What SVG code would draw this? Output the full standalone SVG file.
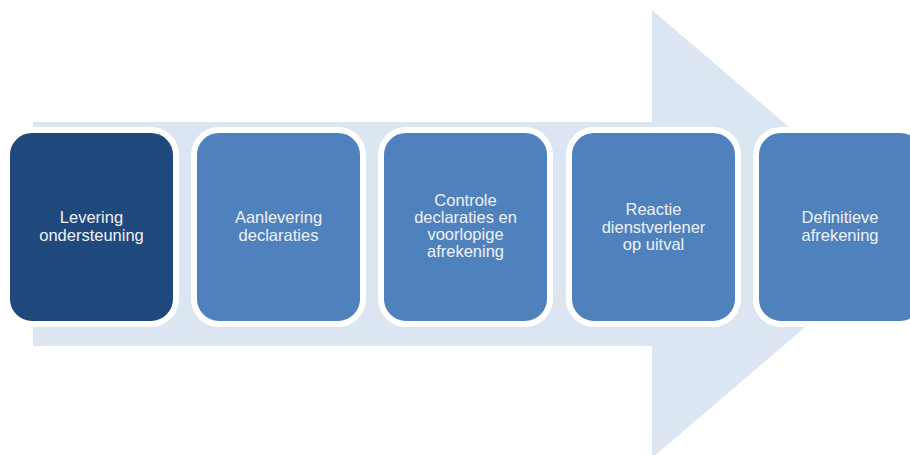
<svg xmlns="http://www.w3.org/2000/svg" width="910" height="455" viewBox="0 0 910 455">
  <style>
    .box { stroke: #FFFFFF; stroke-width: 6; }
    .dark { fill: #1F497D; }
    .mid { fill: #4F81BD; }
    .lbl { font-family: "Liberation Sans", Arial, sans-serif; font-size: 16.5px; fill: #F0F2F7; text-anchor: middle; }
  </style>
  <rect x="0" y="0" width="910" height="455" fill="#FFFFFF"/>
  <g id="connectors">
    <polygon points="33,122 652,122 652,10 914,234 652,458 652,346 33,346" fill="#DCE6F2"/>
  </g>
  <g id="node1">
    <rect class="box dark" x="7" y="130" width="169" height="194" rx="25" ry="25"/>
    <text class="lbl" x="91.5" y="223">Levering</text>
    <text class="lbl" x="91.5" y="241">ondersteuning</text>
  </g>
  <g id="node2">
    <rect class="box mid" x="194" y="130" width="169" height="194" rx="25" ry="25"/>
    <text class="lbl" x="278.5" y="223">Aanlevering</text>
    <text class="lbl" x="278.5" y="241">declaraties</text>
  </g>
  <g id="node3">
    <rect class="box mid" x="381" y="130" width="169" height="194" rx="25" ry="25"/>
    <text class="lbl" x="465.5" y="206">Controle</text>
    <text class="lbl" x="465.5" y="223">declaraties en</text>
    <text class="lbl" x="465.5" y="240">voorlopige</text>
    <text class="lbl" x="465.5" y="257">afrekening</text>
  </g>
  <g id="node4">
    <rect class="box mid" x="569" y="130" width="169" height="194" rx="25" ry="25"/>
    <text class="lbl" x="653.5" y="215">Reactie</text>
    <text class="lbl" x="653.5" y="232.5">dienstverlener</text>
    <text class="lbl" x="653.5" y="250">op uitval</text>
  </g>
  <g id="node5">
    <rect class="box mid" x="756" y="130" width="169" height="194" rx="25" ry="25"/>
    <text class="lbl" x="840" y="223">Definitieve</text>
    <text class="lbl" x="840" y="241">afrekening</text>
  </g>
</svg>
